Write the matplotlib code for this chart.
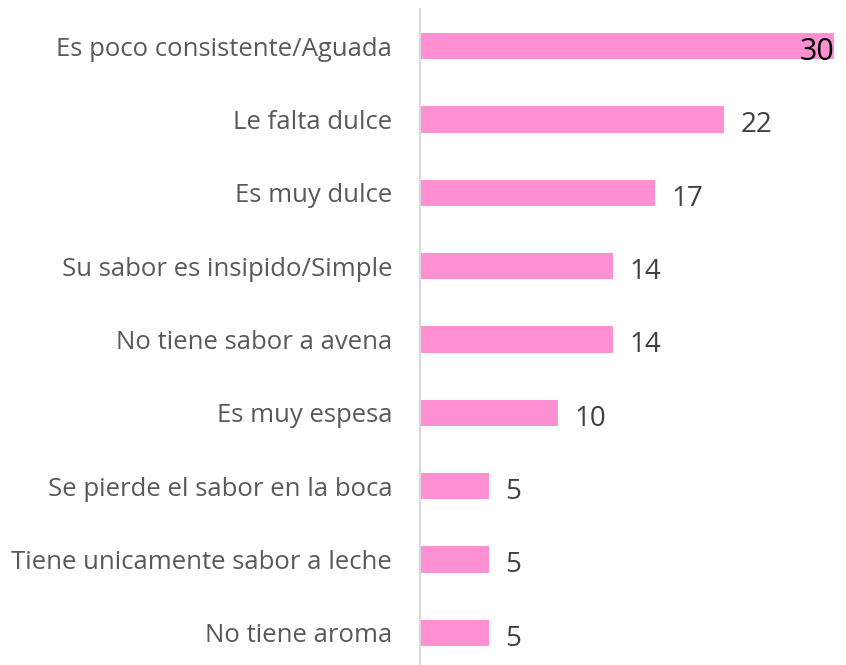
import matplotlib
matplotlib.use("Agg")
from matplotlib import pyplot as plt

categories = ["Es poco consistente/Aguada", "Le falta dulce", "Es muy dulce",
              "Su sabor es insipido/Simple", "No tiene sabor a avena", "Es muy espesa",
              "Se pierde el sabor en la boca", "Tiene unicamente sabor a leche",
              "No tiene aroma"]
values = [30, 22, 17, 14, 14, 10, 5, 5, 5]

plt.rcParams['font.family'] = ['Open Sans', 'DejaVu Sans']

fig = plt.figure(figsize=(8.46, 6.65), dpi=100)
ax = fig.add_axes([420/846, -4.5/665, 414/846, 660/665])

pos = list(range(len(categories)))
ax.barh(pos, values, height=0.355, color='#FF91D2')
ax.set_xlim(0, 30)
ax.set_ylim(len(categories) - 0.5, -0.5)

ax.set_yticks(pos)
ax.set_yticklabels(categories, fontsize=18.5, color='#595959')
ax.tick_params(axis='y', length=0, pad=20)
ax.set_xticks([])

for s in ['top', 'right', 'bottom']:
    ax.spines[s].set_visible(False)
ax.spines['left'].set_color('#d9d9d9')
ax.spines['left'].set_linewidth(1.5)

for i, v in enumerate(values):
    if i == 0:
        ax.text(v + 0.05, i + 0.03, str(v), ha='right', va='center_baseline', fontsize=22, color='black')
    else:
        ax.text(v + 1.2, i + 0.03, str(v), ha='left', va='center_baseline', fontsize=20, color='#404040')

fig.savefig("out.png", dpi=100)
